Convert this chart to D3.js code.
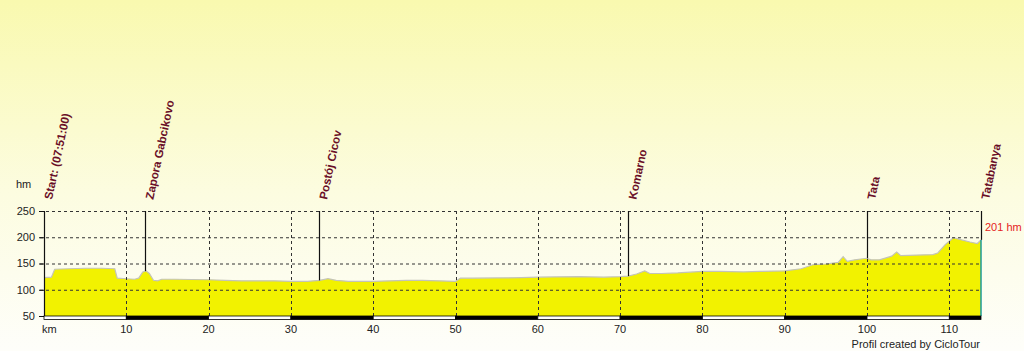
<!DOCTYPE html>
<html>
<head>
<meta charset="utf-8">
<script src="https://cdn.jsdelivr.net/npm/d3@7"></script>
<style>
  html, body { margin: 0; padding: 0; background: #fefef8; }
  svg { display: block; font-family: "Liberation Sans", Arial, sans-serif; }
</style>
</head>
<body>
<svg id="chart" width="1024" height="351"></svg>
<script>
// ---- data ----
const profileKm = [0, 0.9, 1.3, 3, 5, 7, 8.6, 8.9, 10, 11, 11.5, 12.0, 12.4, 12.8, 13.3, 13.8, 14.3, 16, 18, 20,
  22, 24, 26, 28, 30, 32, 33.5, 34.5, 35.5, 37, 40, 42, 44, 46, 48, 50, 50.6, 52, 55, 58, 60,
  62, 65, 68, 70, 71, 72, 73, 73.6, 75, 77, 80, 82, 85, 87, 90, 92, 93.5, 95, 96.5, 97.1, 97.6,
  98.5, 99.5, 100, 100.5, 101.5, 103, 103.6, 104.1, 106, 108, 108.6, 109.5, 110.5, 111.5, 112.5, 113.4, 113.85];
const profileAlt = [123, 124, 139, 140, 141, 141, 140, 122, 121, 120, 122, 134, 136, 131, 118, 117, 120, 120, 119.5, 119,
  118, 117, 117, 117, 116, 116, 118, 121, 118, 116, 116, 117, 118, 118, 117, 116, 122, 122, 122.5, 123, 124,
  124.5, 125, 124, 125, 126, 130, 136, 131, 131, 132, 135, 135, 134, 135, 136, 140, 148, 149, 152, 163, 154,
  157, 159, 160, 157, 157, 164, 172, 165, 166, 167, 170, 186, 199, 195, 191, 188, 195];

const waypointNames = ["Start: (07:51:00)", "Zapora Gabcikovo", "Postój Cicov", "Komarno", "Tata", "Tatabanya"];
const waypointKm = [0, 12.3, 33.4, 71.0, 100.0, 113.85];

const yTicks = [50, 100, 150, 200, 250];
const xTicks = [10, 20, 30, 40, 50, 60, 70, 80, 90, 100, 110];
const kmBands = [0, 10, 20, 30, 40, 50, 60, 70, 80, 90, 100, 110];
const maxLabel = "201 hm";
const yUnit = "hm";
const xUnit = "km";
const credit = "Profil created by CicloTour";

// ---- drawing ----
const svg = d3.select("#chart");
const W = 1024, H = 351;

const defs = svg.append("defs");
const grad = defs.append("linearGradient").attr("id", "bg").attr("x1", 0).attr("y1", 0).attr("x2", 0).attr("y2", 1);
grad.append("stop").attr("offset", "0%").attr("stop-color", "#f9f9af");
grad.append("stop").attr("offset", "55%").attr("stop-color", "#fcfce0");
grad.append("stop").attr("offset", "100%").attr("stop-color", "#fefefa");
svg.append("rect").attr("width", W).attr("height", H).attr("fill", "url(#bg)");

const x = d3.scaleLinear().domain([0, 113.85]).range([44, 981]);
const y = d3.scaleLinear().domain([50, 250]).range([316, 211]);

const pts = profileKm.map((k, i) => ({ km: k, alt: profileAlt[i] }));
const altAt = km => {
  const i = d3.bisector(d => d.km).left(pts, km);
  if (i <= 0) return pts[0].alt;
  if (i >= pts.length) return pts[pts.length - 1].alt;
  const a = pts[i - 1], b = pts[i];
  return a.alt + (b.alt - a.alt) * (km - a.km) / (b.km - a.km);
};

// area
svg.append("path")
  .datum(pts)
  .attr("d", d3.area().x(d => x(d.km)).y0(y(50)).y1(d => y(d.alt)))
  .attr("fill", "#f2f200");
svg.append("path")
  .datum(pts)
  .attr("d", d3.line().x(d => x(d.km)).y(d => y(d.alt)))
  .attr("fill", "none").attr("stroke", "#c4c4b8").attr("stroke-width", 1.2);
// right edge teal
const last = pts[pts.length - 1];
svg.append("line")
  .attr("x1", x(last.km)).attr("x2", x(last.km))
  .attr("y1", y(last.alt)).attr("y2", y(50))
  .attr("stroke", "#1a9a9a").attr("stroke-width", 1.5);

// horizontal grid
svg.append("g").selectAll("line").data(yTicks.filter(t => t > 50)).join("line")
  .attr("x1", 40).attr("x2", x(113.85))
  .attr("y1", d => y(d) + 0.5).attr("y2", d => y(d) + 0.5)
  .attr("stroke", "#333").attr("stroke-width", 1).attr("stroke-dasharray", "3,3");
// vertical grid
svg.append("g").selectAll("line").data(xTicks).join("line")
  .attr("x1", d => Math.round(x(d)) + 0.5).attr("x2", d => Math.round(x(d)) + 0.5)
  .attr("y1", y(250)).attr("y2", y(50))
  .attr("stroke", "#333").attr("stroke-width", 1).attr("stroke-dasharray", "3,3");

// y axis
svg.append("line").attr("x1", 44.5).attr("x2", 44.5).attr("y1", y(250)).attr("y2", y(50))
  .attr("stroke", "#111").attr("stroke-width", 1.2);
svg.append("g").selectAll("line").data(yTicks).join("line")
  .attr("x1", 39).attr("x2", 44).attr("y1", d => y(d) + 0.5).attr("y2", d => y(d) + 0.5)
  .attr("stroke", "#111");
svg.append("g").selectAll("text").data(yTicks).join("text")
  .attr("x", 35).attr("y", d => y(d)).attr("dy", "0.36em")
  .attr("text-anchor", "end").attr("font-size", 11).attr("fill", "#222")
  .text(d => d);
svg.append("text").attr("x", 16).attr("y", 188).attr("font-size", 11).attr("fill", "#222").text(yUnit);

// km band
svg.append("g").selectAll("rect").data(kmBands).join("rect")
  .attr("x", d => x(d)).attr("y", 316)
  .attr("width", d => x(Math.min(d + 10, 113.85)) - x(d)).attr("height", 3.5)
  .attr("fill", (d, i) => i % 2 ? "#000" : "#fff")
  .attr("stroke", "#000").attr("stroke-width", 0.8);

// x labels
svg.append("g").selectAll("text").data(xTicks).join("text")
  .attr("x", d => x(d)).attr("y", 333)
  .attr("text-anchor", "middle").attr("font-size", 11).attr("fill", "#222")
  .text(d => d);
svg.append("text").attr("x", 42).attr("y", 333).attr("font-size", 11).attr("fill", "#222").text(xUnit);

// waypoint lines & labels
const wp = waypointNames.map((n, i) => ({ name: n, km: waypointKm[i] }));
svg.append("g").selectAll("line").data(wp.filter(d => d.km > 0)).join("line")
  .attr("x1", d => Math.round(x(d.km)) + 0.5).attr("x2", d => Math.round(x(d.km)) + 0.5)
  .attr("y1", y(250)).attr("y2", d => y(altAt(d.km)))
  .attr("stroke", "#111").attr("stroke-width", 1.2);
svg.append("g").selectAll("text").data(wp).join("text")
  .attr("transform", d => `translate(${x(d.km) + 8},200) rotate(-78)`)
  .attr("font-size", 11.6).attr("font-weight", "bold").attr("fill", "#6a0f28")
  .text(d => d.name);

// max label
svg.append("text").attr("x", 985).attr("y", 231).attr("font-size", 11).attr("fill", "#e52222").text(maxLabel);

// credit
svg.append("text").attr("x", 980).attr("y", 348).attr("text-anchor", "end")
  .attr("font-size", 11).attr("fill", "#222").text(credit);
</script>
</body>
</html>
